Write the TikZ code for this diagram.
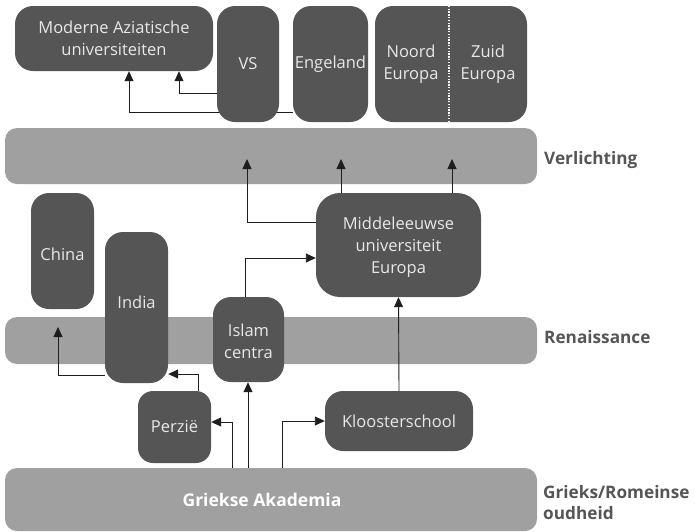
\documentclass[tikz,border=0pt]{standalone}
\usepackage{fontspec}
\setmainfont{Open Sans}
\usetikzlibrary{arrows.meta,positioning,calc}
\definecolor{boxgray}{HTML}{555555}
\definecolor{bandgray}{HTML}{A0A0A0}
\definecolor{boxtxt}{HTML}{E8E8E8}
\definecolor{labgray}{HTML}{555555}
\definecolor{arrgray}{HTML}{1E1E1E}
\pgfdeclarelayer{bands}
\pgfdeclarelayer{conn}
\pgfsetlayers{bands,conn,main}
\tikzset{
  dbox/.style={fill=boxgray, draw=none, rounded corners=18pt, inner sep=0pt,
    text=boxtxt, align=center, font=\fontsize{16.5}{22}\selectfont},
  btext/.style={inner sep=0pt, text=boxtxt, align=center, font=\fontsize{16.5}{22}\selectfont},
  bandbox/.style={fill=bandgray, draw=none, rounded corners=12pt, inner sep=0pt,
    minimum width=532pt},
  lab/.style={anchor=west, inner sep=0pt, text=labgray, align=left,
    font=\bfseries\fontsize{17.2}{21}\selectfont},
  arr/.style={draw=arrgray, line width=0.9pt, -{Triangle[length=10pt,width=9pt]}},
}
\begin{document}
\begin{tikzpicture}[x=1pt,y=-1pt]
\useasboundingbox (0,0) rectangle (695,531);
% bands
\begin{pgfonlayer}{bands}
\node[bandbox, minimum height=56pt] (verl) at (271,156) {};
\node[bandbox, minimum height=47pt] (ren) at (271,340.5) {};
\node[bandbox, minimum height=63pt] (grk) at (271,499.5) {};
\end{pgfonlayer}
\node[inner sep=0pt, text=white, font=\bfseries\fontsize{17.5}{21}\selectfont] (grklbl) at ([xshift=-9pt]grk.center) {Griekse Akademia};
% labels
\node[lab] (lverl) at (544,160) {Verlichting};
\node[lab] (lren) at (544,337) {Renaissance};
\node[lab] (lgrk) at (543,503) {Grieks/Romeinse\\oudheid};
% dark boxes
\node[dbox, minimum width=198pt, minimum height=65pt] (mod) at (114,38.5) {Moderne Aziatische\\universiteiten};
\node[dbox, minimum width=62pt, minimum height=116pt] (vs) at (248,64) {VS};
\node[dbox, minimum width=75pt, minimum height=116pt] (eng) at (330.5,64) {Engeland};
\node[dbox, minimum width=152pt, minimum height=116pt] (nz) at (451,64) {};
\node[btext] (noord) at ([xshift=-40pt]nz.center) {Noord\\Europa};
\node[btext] (zuid) at ([xshift=37pt]nz.center) {Zuid\\Europa};
\draw[white, line width=1.3pt, dash pattern=on 1.4pt off 1.4pt] ([xshift=-2pt]nz.north) -- ([xshift=-2pt]nz.south);
\node[dbox, minimum width=63pt, minimum height=116pt] (china) at (62.5,251) {};
\node[btext] (chinalbl) at ([yshift=-3pt]china.center) {China};
\node[dbox, minimum width=63pt, minimum height=151pt] (india) at (136.5,307.5) {};
\node[btext] (indialbl) at ([yshift=5.5pt]india.center) {India};
\node[dbox, minimum width=165pt, minimum height=104pt, rounded corners=24pt] (mid) at (398.5,245) {};
\node[btext] (midlbl) at ([yshift=-2.5pt]mid.center) {Middeleeuwse\\universiteit\\Europa};
\node[dbox, minimum width=71pt, minimum height=85pt] (isl) at (248.5,339.5) {};
\node[btext] (isllbl) at ([yshift=-1.5pt]isl.center) {Islam\\centra};
\node[dbox, minimum width=73pt, minimum height=72pt, rounded corners=15pt] (perz) at (174.5,427) {Perzië};
\node[dbox, minimum width=148pt, minimum height=60pt] (kloo) at (399,421) {Kloosterschool};
% connectors
\begin{pgfonlayer}{conn}
\draw[arr] ([yshift=-29pt]vs.west) -| ([xshift=65pt]mod.south);
\draw[arr] ([yshift=-48pt]eng.west) -| ([xshift=15pt]mod.south);
\draw[arr] ([yshift=23pt]mid.west) -| ([xshift=-24pt,yshift=-3pt]verl.center);
\draw[arr] ([xshift=-57.5pt]mid.north) -- ([xshift=70pt,yshift=-3pt]verl.center);
\draw[arr] ([xshift=53.5pt]mid.north) -- ([xshift=181pt,yshift=-3pt]verl.center);
\draw[arr] ([xshift=-3.5pt]isl.north) |- ([yshift=-13pt]mid.west);
\draw[arr] ([yshift=-67.5pt]india.west) -| ([xshift=-213pt,yshift=13.5pt]ren.center);
\draw[arr] ([xshift=23.5pt]perz.north) |- ([yshift=-66.5pt]india.east);
\draw[arr] ([xshift=-39pt]grk.north) |- ([yshift=5pt]perz.east);
\draw[arr] ([xshift=-23pt]grk.north) -- ([xshift=-0.5pt]isl.south);
\draw[arr] ([xshift=11pt]grk.north) |- (kloo.west);
\draw[arr] (kloo.north) -- (mid.south);
\end{pgfonlayer}
\end{tikzpicture}
\end{document}
